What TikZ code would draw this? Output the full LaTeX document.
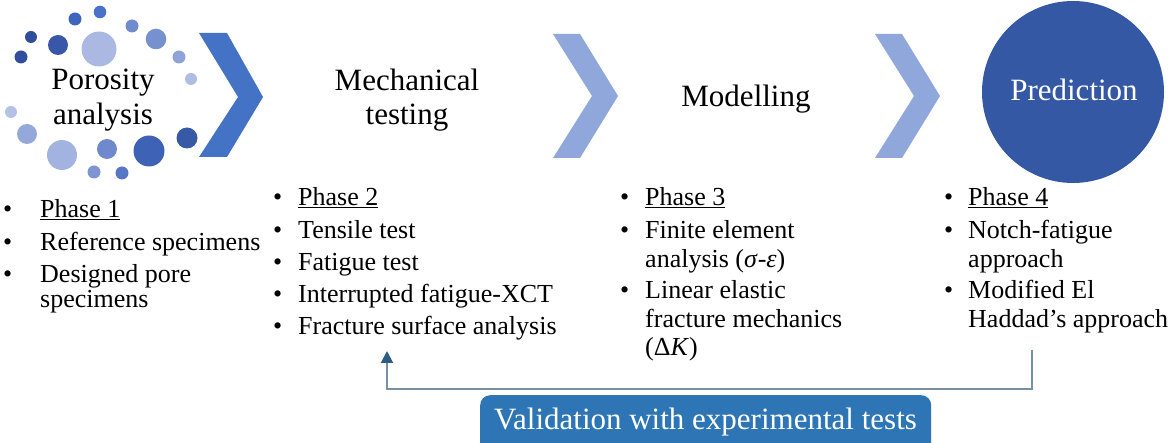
\documentclass[tikz,border=0pt]{standalone}
\usepackage{fontspec}
\setmainfont{Liberation Serif}
\usetikzlibrary{arrows.meta}
\definecolor{chevA}{HTML}{4472C4}
\definecolor{chevB}{HTML}{8FA7DA}
\definecolor{predc}{HTML}{3558A4}
\definecolor{valc}{HTML}{2E75B6}
\definecolor{fbline}{HTML}{7890A6}
\definecolor{fbtip}{HTML}{2E5C85}
\newcommand\myporedot[4]{\definecolor{tmpporec}{HTML}{#1}\fill[tmpporec] (#2,#3) circle (#4);}
\tikzset{
  head/.style={inner sep=0pt, font=\fontsize{31}{32}\selectfont, anchor=base},
  item/.style={inner sep=0pt, font=\fontsize{26}{27}\selectfont, anchor=base west},
}
\begin{document}
\begin{tikzpicture}[x=1pt,y=-1pt]
\useasboundingbox (0,0) rectangle (1170,443);
% porosity circles
\myporedot{4A72C8}{100}{12}{6.3}
\myporedot{3F64BC}{75}{19}{6.5}
\myporedot{2E4D9A}{31}{37}{6}
\myporedot{3957A8}{58}{45}{10}
\myporedot{AAB8E2}{99}{49}{17.5}
\myporedot{6F8ACD}{132}{26}{6.5}
\myporedot{7690D0}{156}{39}{10.3}
\myporedot{2F4E9C}{21}{57}{6.5}
\myporedot{8FA3DA}{179}{57}{6.5}
\myporedot{AFBCE4}{191}{79}{6}
\myporedot{B5C2E8}{11}{112}{6}
\myporedot{94A8DC}{27}{134}{10}
\myporedot{A3B3E1}{62}{155}{15}
\myporedot{6E89CC}{107}{149}{10}
\myporedot{3E62B5}{149}{151}{15.5}
\myporedot{385AA6}{187}{138}{10.5}
\myporedot{7D95D2}{94}{172}{6.5}
\myporedot{5677C4}{122}{173}{6.5}
% chevrons
\fill[chevA] (199,33) -- (227,33) -- (263,97) -- (227,157) -- (199,157) -- (238,97) -- cycle;
\fill[chevB] (553,34) -- (580,34) -- (618,96) -- (580,158) -- (553,158) -- (592,96) -- cycle;
\fill[chevB] (875,34) -- (902,34) -- (940,96) -- (902,158) -- (875,158) -- (914,96) -- cycle;
% prediction circle
\node[circle, fill=predc, minimum size=182pt, inner sep=0pt] (pred) at (1073,92) {};
% headings
\node[head] (por1) at (103,90) {Porosity};
\node[head] (por2) at (103,125) {analysis};
\node[head] (mec1) at (407,91) {Mechanical};
\node[head] (mec2) at (407,125) {testing};
\node[head] (mod) at (746,107) {Modelling};
\node[head, text=white] (prd) at (1074,101) {Prediction};
% column 1
\node[item] (b11) at (3,218) {•};
\node[item] (t11) at (40,218) {\underline{Phase 1}};
\node[item] (b12) at (3,251) {•};
\node[item] (t12) at (40,251) {Reference specimens};
\node[item] (b13) at (3,283) {•};
\node[item] (t13) at (40,283) {Designed pore};
\node[item] (t14) at (40,308) {specimens};
% column 2
\node[item] (b21) at (273,206) {•};
\node[item] (t21) at (298,206) {\underline{Phase 2}};
\node[item] (b22) at (273,239) {•};
\node[item] (t22) at (298,239) {Tensile test};
\node[item] (b23) at (273,271) {•};
\node[item] (t23) at (298,271) {Fatigue test};
\node[item] (b24) at (273,303) {•};
\node[item] (t24) at (298,303) {Interrupted fatigue-XCT};
\node[item] (b25) at (273,335) {•};
\node[item] (t25) at (298,335) {Fracture surface analysis};
% column 3
\node[item] (b31) at (620,206) {•};
\node[item] (t31) at (645,206) {\underline{Phase 3}};
\node[item] (b32) at (620,239) {•};
\node[item] (t32) at (645,239) {Finite element};
\node[item] (t33) at (645,268) {analysis (\textit{σ}-\textit{ε})};
\node[item] (b34) at (620,299) {•};
\node[item] (t34) at (645,299) {Linear elastic};
\node[item] (t35) at (645,328) {fracture mechanics};
\node[item] (t36) at (645,356) {(Δ\textit{K})};
% column 4
\node[item] (b41) at (944,206) {•};
\node[item] (t41) at (968,206) {\underline{Phase 4}};
\node[item] (b42) at (944,239) {•};
\node[item] (t42) at (968,239) {Notch-fatigue};
\node[item] (t43) at (968,268) {approach};
\node[item] (b44) at (944,299) {•};
\node[item] (t44) at (968,299) {Modified El};
\node[item] (t45) at (968,328) {Haddad’s approach};
% validation box
\node[fill=valc, rounded corners=10pt, minimum width=451pt, minimum height=60pt, inner sep=0pt, anchor=north west] (val) at (480,395) {};
\node[head, text=white] (valt) at (705.5,429) {Validation with experimental tests};
% feedback arrow
\coordinate (fbR) at (1032,350);
\coordinate (fbL) at (387,351);
\draw[fbline, line width=2pt, -{Triangle[length=12pt,width=12pt,color=fbtip]}] (fbR) |- (387,389) -- (fbL);
\end{tikzpicture}
\end{document}
